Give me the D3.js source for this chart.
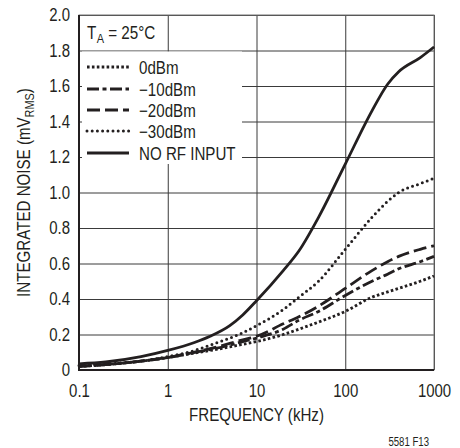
<!DOCTYPE html>
<html>
<head>
<meta charset="utf-8">
<script src="https://cdn.jsdelivr.net/npm/d3@7"></script>
<style>
	body { margin: 0; background: #fff; }
	svg text { font-family: "Liberation Sans", Arial, sans-serif; fill: #231f20; }
	.tick text { font-size: 18px; }
</style>
</head>
<body>
<svg id="chart"></svg>
<script>

// frequency points (kHz)
var freqs = [0.1, 0.2, 0.5, 1, 2, 3, 5, 7, 10, 20, 30, 50, 100, 200, 300, 400, 700, 1000];

// integrated noise, mVrms
var noRF   = [0.035, 0.045, 0.075, 0.11, 0.155, 0.19, 0.25, 0.31, 0.39, 0.56, 0.67, 0.86, 1.16, 1.46, 1.61, 1.68, 1.76, 1.82];
var dbm30  = [0.025, 0.035, 0.05, 0.075, 0.11, 0.14, 0.18, 0.21, 0.25, 0.34, 0.41, 0.50, 0.68, 0.86, 0.95, 1.00, 1.05, 1.08];
var dbm20  = [0.02, 0.03, 0.05, 0.07, 0.10, 0.12, 0.15, 0.17, 0.19, 0.26, 0.30, 0.36, 0.46, 0.56, 0.61, 0.64, 0.68, 0.70];
var dbm10  = [0.02, 0.03, 0.05, 0.07, 0.10, 0.115, 0.14, 0.16, 0.18, 0.23, 0.28, 0.33, 0.42, 0.50, 0.54, 0.57, 0.61, 0.64];
var dbm0   = [0.02, 0.03, 0.05, 0.07, 0.095, 0.11, 0.13, 0.145, 0.16, 0.20, 0.23, 0.27, 0.33, 0.41, 0.44, 0.46, 0.50, 0.53];

var legendLabels = ["0dBm", "\u221210dBm", "\u221220dBm", "\u221230dBm", "NO RF INPUT"];
var xTicks = [0.1, 1, 10, 100, 1000];
var xTickLabels = ["0.1", "1", "10", "100", "1000"];
var yTicks = [0, 0.2, 0.4, 0.6, 0.8, 1.0, 1.2, 1.4, 1.6, 1.8, 2.0];

var W = 460, H = 448;
var margin = {top: 15, right: 26, bottom: 78, left: 79};

var svg = d3.select("#chart").attr("width", W).attr("height", H);

var x = d3.scaleLog().domain([0.1, 1000]).range([margin.left, W - margin.right]);
var y = d3.scaleLinear().domain([0, 2]).range([H - margin.bottom, margin.top]);

// narrow the glyphs, the original uses a condensed face
function squeeze(sel, k) {
	sel.each(function() {
		var l = this.getComputedTextLength();
		d3.select(this).attr("textLength", l * k).attr("lengthAdjust", "spacingAndGlyphs");
	});
}

// grid
svg.append("g")
	.attr("transform", "translate(0," + y(0) + ")")
	.call(d3.axisBottom(x).tickValues(xTicks).tickSize(-(y(0) - y(2))).tickFormat(""))
	.call(function(g) { g.select(".domain").remove(); g.selectAll("line").attr("stroke", "#3a3a3a").attr("stroke-width", 1); });

svg.append("g")
	.attr("transform", "translate(" + x(0.1) + ",0)")
	.call(d3.axisLeft(y).tickValues(yTicks).tickSize(-(x(1000) - x(0.1))).tickFormat(""))
	.call(function(g) { g.select(".domain").remove(); g.selectAll("line").attr("stroke", "#3a3a3a").attr("stroke-width", 1); });

// frame
svg.append("rect")
	.attr("x", x(0.1)).attr("y", y(2))
	.attr("width", x(1000) - x(0.1)).attr("height", y(0) - y(2))
	.attr("fill", "none").attr("stroke", "#777").attr("stroke-width", 1);
svg.append("path")
	.attr("d", "M" + x(0.1) + "," + y(2) + "V" + y(0) + "H" + x(1000))
	.attr("fill", "none").attr("stroke", "#231f20").attr("stroke-width", 2);

// legend background (covers grid)
svg.append("rect")
	.attr("x", x(0.1) + 3).attr("y", y(1.8) + 1)
	.attr("width", 242 - x(0.1) - 3).attr("height", 164 - y(1.8) - 1)
	.attr("fill", "#fff");

// curves
var series = [
	{vals: dbm0,  dash: "2.6,2.3", cap: "butt", w: 2.8},
	{vals: dbm10, dash: "12,3.5,4,3.5", cap: "butt", w: 2.8},
	{vals: dbm20, dash: "13,5", cap: "butt", w: 2.8},
	{vals: dbm30, dash: "0,5.2", cap: "round", w: 3},
	{vals: noRF,  dash: null, cap: "butt", w: 2.8}
];

var line = d3.line()
	.x(function(d) { return x(d[0]); })
	.y(function(d) { return y(d[1]); })
	.curve(d3.curveMonotoneX);

svg.append("g").selectAll("path")
	.data(series).enter()
	.append("path")
	.attr("d", function(s) { return line(freqs.map(function(f, i) { return [f, s.vals[i]]; })); })
	.attr("fill", "none")
	.attr("stroke", "#231f20")
	.attr("stroke-width", function(s) { return s.w; })
	.attr("stroke-linecap", function(s) { return s.cap; })
	.attr("stroke-dasharray", function(s) { return s.dash; });

// axes labels
svg.append("g")
	.attr("transform", "translate(0," + y(0) + ")")
	.call(d3.axisBottom(x).tickValues(xTicks).tickSize(0).tickPadding(14)
		.tickFormat(function(d, i) { return xTickLabels[i]; }))
	.call(function(g) { g.select(".domain").remove(); });

svg.append("g")
	.attr("transform", "translate(" + x(0.1) + ",0)")
	.call(d3.axisLeft(y).tickValues(yTicks).tickSize(0).tickPadding(9)
		.tickFormat(function(d) { return d === 0 ? "0" : d3.format(".1f")(d); }))
	.call(function(g) { g.select(".domain").remove(); });

svg.selectAll(".tick text").attr("fill", "#231f20").call(squeeze, 0.83);

svg.append("text")
	.attr("x", (x(0.1) + x(1000)) / 2).attr("y", 421)
	.attr("text-anchor", "middle").attr("font-size", 18)
	.text("FREQUENCY (kHz)")
	.call(squeeze, 0.84);

var yt = svg.append("text")
	.attr("transform", "translate(30," + ((y(0) + y(2)) / 2) + ") rotate(-90)")
	.attr("text-anchor", "middle").attr("font-size", 18);
yt.append("tspan").text("INTEGRATED NOISE (mV");
yt.append("tspan").attr("font-size", 13).attr("dy", 4).text("RMS");
yt.append("tspan").attr("dy", -4).text(")");
yt.call(squeeze, 0.84);

// T_A box label
var ta = svg.append("text").attr("x", 87).attr("y", 39).attr("font-size", 18);
ta.append("tspan").text("T");
ta.append("tspan").attr("font-size", 13).attr("dy", 4).attr("dx", 0.5).text("A");
ta.append("tspan").attr("dy", -4).text(" = 25\u00b0C");
ta.call(squeeze, 0.85);

// legend
var legY = [67, 89, 110, 131, 153];
var leg = svg.append("g").selectAll("g")
	.data(series).enter()
	.append("g")
	.attr("transform", function(s, i) { return "translate(0," + legY[i] + ")"; });

leg.append("line")
	.attr("x1", 87).attr("x2", 129)
	.attr("stroke", "#231f20")
	.attr("stroke-width", function(s) { return s.w; })
	.attr("stroke-linecap", function(s) { return s.cap; })
	.attr("stroke-dasharray", function(s) { return s.dash; });

leg.append("text")
	.attr("x", 139).attr("y", 6.5)
	.attr("font-size", 18)
	.text(function(s, i) { return legendLabels[i]; })
	.call(squeeze, 0.84);

svg.append("text")
	.attr("x", 429).attr("y", 446)
	.attr("text-anchor", "end").attr("font-size", 12)
	.text("5581 F13")
	.call(squeeze, 0.8);

</script>
</body>
</html>
